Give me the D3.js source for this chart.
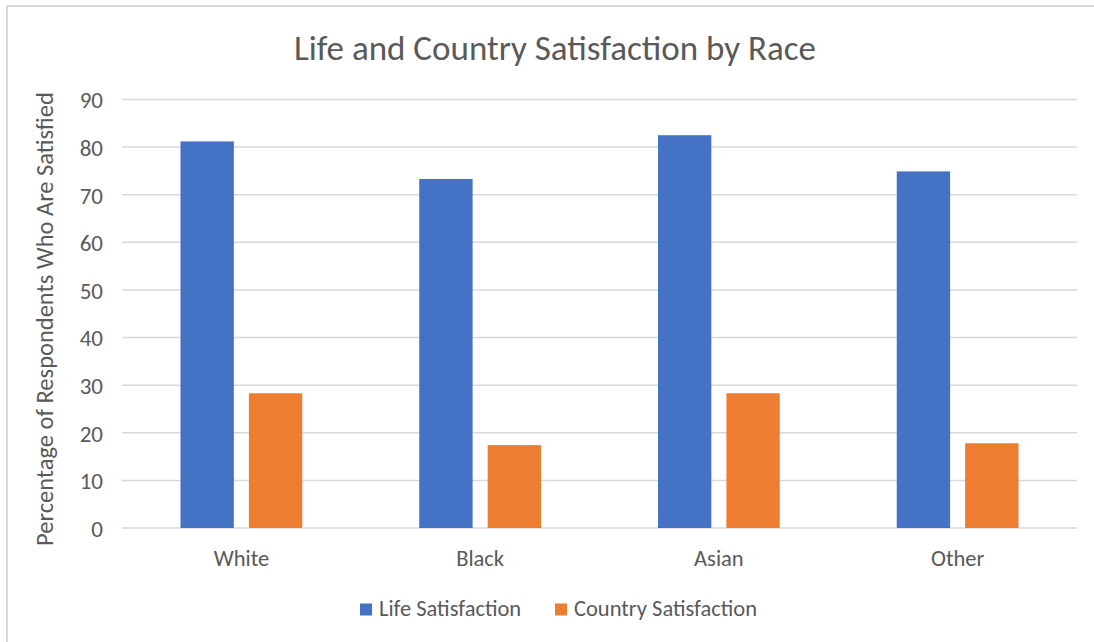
<!DOCTYPE html>
<html>
<head>
<meta charset="utf-8">
<script src="https://cdn.jsdelivr.net/npm/d3@7"></script>
<style>
  body { margin: 0; background: #fff; }
  svg text { font-family: Calibri, Carlito, "Open Sans", sans-serif; fill: #595959; }
</style>
</head>
<body>
<div id="app"></div>
<script>
const races = ['White', 'Black', 'Asian', 'Other'];
const seriesNames = ['Life Satisfaction', 'Country Satisfaction'];
const lifeValues = [81.2, 73.3, 82.5, 74.9];
const countryValues = [28.3, 17.4, 28.3, 17.8];
const yTicks = [0, 10, 20, 30, 40, 50, 60, 70, 80, 90];
const colors = ['#4472c4', '#ed7d31'];

const width = 1094;
const height = 642;
const margin = { top: 99.5, right: 17, bottom: 114, left: 122 };

const svg = d3.select('#app').append('svg')
  .attr('width', width)
  .attr('height', height);

// chart frame (only top and left edges are visible in the crop)
svg.append('path')
  .attr('d', `M7,${height} V6 H${width}`)
  .attr('fill', 'none')
  .attr('stroke', '#d9d9d9')
  .attr('stroke-width', 2);

const x0 = d3.scaleBand()
  .domain(races)
  .range([margin.left, width - margin.right])
  .paddingInner(0.49)
  .paddingOuter(0.245);

const x1 = d3.scaleBand()
  .domain(seriesNames)
  .range([0, x0.bandwidth()])
  .paddingInner(0.22);

const y = d3.scaleLinear()
  .domain([0, 90])
  .range([height - margin.bottom, margin.top]);

// gridlines
svg.append('g')
  .selectAll('line')
  .data(yTicks)
  .join('line')
  .attr('x1', margin.left)
  .attr('x2', width - margin.right)
  .attr('y1', d => y(d))
  .attr('y2', d => y(d))
  .attr('stroke', '#d9d9d9')
  .attr('stroke-width', 1.5);

// y axis labels
const yAxis = svg.append('g')
  .attr('transform', `translate(${margin.left - 19},0)`)
  .call(d3.axisLeft(y).tickValues(yTicks).tickSize(0).tickPadding(0));
yAxis.select('.domain').remove();
yAxis.attr('font-family', null).attr('font-size', null);
yAxis.selectAll('text')
  .attr('font-size', 23)
  .attr('dy', '0.36em')
  .attr('fill', '#595959');

// bars
const rows = races.map((race, i) => ({ race, values: [lifeValues[i], countryValues[i]] }));

svg.append('g')
  .selectAll('g')
  .data(rows)
  .join('g')
  .attr('transform', d => `translate(${x0(d.race)},0)`)
  .selectAll('rect')
  .data(d => d.values.map((v, j) => ({ key: seriesNames[j], value: v, color: colors[j] })))
  .join('rect')
  .attr('x', d => x1(d.key))
  .attr('width', x1.bandwidth())
  .attr('y', d => y(d.value))
  .attr('height', d => y(0) - y(d.value))
  .attr('fill', d => d.color);

// x axis labels
const xAxis = svg.append('g')
  .attr('transform', `translate(0,${y(0)})`)
  .call(d3.axisBottom(x0).tickSize(0));
xAxis.select('.domain').remove();
xAxis.attr('font-family', null).attr('font-size', null);
xAxis.selectAll('text')
  .attr('font-size', 22.5)
  .attr('y', 38)
  .attr('dy', null)
  .attr('fill', '#595959');

// title
svg.append('text')
  .attr('x', 555)
  .attr('y', 59.5)
  .attr('text-anchor', 'middle')
  .attr('font-size', 35)
  .text('Life and Country Satisfaction by Race');

// y axis title
svg.append('text')
  .attr('transform', `translate(53,319) rotate(-90)`)
  .attr('text-anchor', 'middle')
  .attr('font-size', 24.5)
  .text('Percentage of Respondents Who Are Satisfied');

// legend
const legendX = [360, 555];
const legend = svg.append('g')
  .selectAll('g')
  .data(seriesNames)
  .join('g')
  .attr('transform', (d, i) => `translate(${legendX[i]},603.5)`);

legend.append('rect')
  .attr('width', 12)
  .attr('height', 12)
  .attr('fill', (d, i) => colors[i]);

legend.append('text')
  .attr('x', 19)
  .attr('y', 12.2)
  .attr('font-size', 22.5)
  .text(d => d);
</script>
</body>
</html>
